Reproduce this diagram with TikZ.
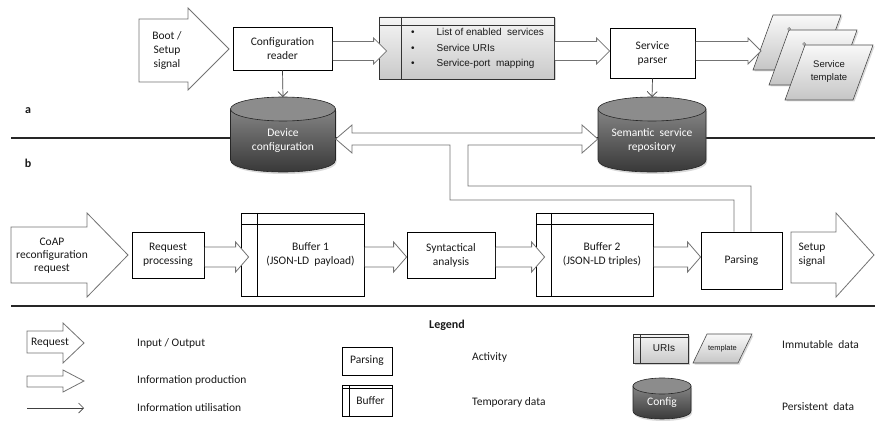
\documentclass[tikz,border=0pt]{standalone}
\usepackage{fontspec}
\setmainfont{Carlito}
\newfontfamily\arialf{Liberation Sans}
\usetikzlibrary{calc,arrows.meta,shadows}
\tikzset{
  txt/.style={font=\fontsize{11.5}{14}\selectfont, align=center, inner sep=0pt, text=black!90},
  box/.style 2 args={txt, draw=black, line width=0.75pt, fill=white, minimum width=#1, minimum height=#2},
  buffer/.style n args={4}{box={#1}{#2}, path picture={
      \draw[line width=0.75pt] ([yshift=-#3]path picture bounding box.north west) -- ([yshift=-#3]path picture bounding box.north east);
      \draw[line width=0.75pt] ([xshift=#4]path picture bounding box.north west) -- ([xshift=#4]path picture bounding box.south west);}},
  greybuf/.style n args={4}{buffer={#1}{#2}{#3}{#4}, top color=gray!8, bottom color=gray!42, draw=black!80,
      drop shadow={shadow xshift=1.5pt, shadow yshift=-1.5pt, opacity=0.35}},
  hollow/.style={draw=black!55, fill=white, line width=0.8pt, line join=miter},
  ioshape/.style={draw=black!55, fill=white, line width=0.8pt, line join=miter},
  thinarrow/.style={draw=black!75, line width=0.7pt, -{Straight Barb[length=5pt,width=10pt]}},
  cylbody/.style={draw=black!85, line width=0.6pt, top color=black!48, bottom color=black!80,
      drop shadow={shadow xshift=1pt, shadow yshift=-2pt, opacity=0.3}},
  cyltop/.style={draw=black!85, line width=0.6pt, fill=black!45},
  cyltext/.style={txt, text=white},
  tpl/.style={draw=black!70, line width=0.6pt, top color=gray!5, bottom color=gray!45,
      drop shadow={shadow xshift=1.5pt, shadow yshift=-1.5pt, opacity=0.3}},
  sepline/.style={draw=black!85},
  legtxt/.style={txt, anchor=west},
}
% hollow information-production arrow: start, tip, body half, head half
\newcommand\harrow[4]{%
  \filldraw[hollow] let \p1=(#1), \p2=(#2) in
   ({\x1+0.4pt},{\y1+#3}) -- ({\x2-13pt},{\y1+#3}) -- ({\x2-13pt},{\y1+#4}) -- (\x2,\y1)
   -- ({\x2-13pt},{\y1-#4}) -- ({\x2-13pt},{\y1-#3}) -- ({\x1+0.4pt},{\y1-#3});}
% cylinder: name, cx, ytop, ybot, rx, ry, text
\newcommand\dbcyl[7]{%
  \pgfmathsetmacro\cyL{#2-#5}\pgfmathsetmacro\cyR{#2+#5}%
  \pgfmathsetmacro\cyT{#3+#6}\pgfmathsetmacro\cyB{#4-#6}%
  \pgfmathsetmacro\cyC{#4-#6+1.3333*#6}%
  \pgfmathsetmacro\cyM{(#3+#6+#4)/2}%
  \path[cylbody] (\cyL,\cyT) -- (\cyL,\cyB) .. controls (\cyL,\cyC) and (\cyR,\cyC) .. (\cyR,\cyB) -- (\cyR,\cyT) -- cycle;
  \path[cyltop] (#2,\cyT) ellipse [x radius=#5, y radius=#6];
  \coordinate (#1-top) at (#2,#3);
  \node[cyltext, minimum width={2*#5}, minimum height={#4-#3-#6}] (#1) at (#2,\cyM) {#7};}
\begin{document}
\begin{tikzpicture}[x=1pt,y=-1pt]
\useasboundingbox (0,0) rectangle (875,422);
% separators
\draw[sepline, line width=1.4pt] (11,138) -- (875,138);
\draw[sepline, line width=1.8pt] (11,306) -- (875,306);
\node[txt, font=\fontsize{12}{14}\selectfont\bfseries] (lbla) at (28,111) {a};
\node[txt, font=\fontsize{12}{14}\selectfont\bfseries] (lblb) at (28,163) {b};

% ---------- part a ----------
\filldraw[ioshape] (139,19) -- (188,19) -- (188,8) -- (229,49) -- (188,90) -- (188,82) -- (139,82) -- cycle;
\node[txt] (boot) at (167,50) {Boot /\\Setup\\signal};
\node[box={99pt}{43pt}] (cr) at (282.5,48.5) {Configuration\\reader};
\node[greybuf={175pt}{62pt}{8pt}{22pt}] (list) at (466.5,48)
  {\hspace*{22pt}{\arialf\fontsize{10}{15.5}\selectfont\begin{tabular}{@{}l@{\hspace{22pt}}l@{}}\textbullet & List of enabled\ \ services\\ \textbullet & Service URIs\\ \textbullet & Service-port\ \ mapping\end{tabular}}};
\node[box={85pt}{50pt}] (sp) at (652.5,53) {Service\\parser};
% service templates
\foreach \dx/\dy in {0/0,16/15,32/30}{
  \path[tpl] ({773+\dx},{15+\dy}) -- ({841+\dx},{15+\dy}) -- ({821+\dx},{70+\dy}) -- ({753+\dx},{70+\dy}) -- cycle;}
\draw[black!70, fill=white, line width=0.5pt] (789,29) circle (1.4pt);
\draw[black!70, fill=white, line width=0.5pt] (804,44) circle (1.4pt);
\node[txt, font=\arialf\fontsize{9.5}{13}\selectfont] (tmpl) at (829,72) {Service\\template};
\coordinate (tplin) at (761,51);

\dbcyl{devcfg}{283}{97}{172}{52.5}{12}{Device\\configuration}
\dbcyl{repo}{652}{97}{172}{54}{12}{Semantic\ \ service\\repository}

\harrow{[yshift=-2.5pt]cr.east}{[xshift=8pt]list.west}{9.5pt}{13pt}
\harrow{[yshift=-3pt]list.east}{sp.west}{9.5pt}{13pt}
\harrow{[yshift=2pt]sp.east}{tplin}{9.5pt}{13pt}
\draw[thinarrow] (cr.south) -- (devcfg-top);
\draw[thinarrow] (sp.south) -- (repo-top);

% ---------- part b ----------
\filldraw[ioshape] (11,227) -- (87,227) -- (87,213) -- (128,255) -- (87,297) -- (87,283) -- (11,283) -- cycle;
\node[txt, font=\fontsize{11.5}{13}\selectfont] (coap) at (52,256) {CoAP\\reconfiguration\\request};
\node[box={72pt}{46pt}] (rp) at (168,255) {Request\\processing};
\node[buffer={123pt}{83pt}{11pt}{16pt}] (b1) at (302.5,254.5) {\hspace*{16pt}\begin{tabular}{@{}c@{}}Buffer 1\\(JSON-LD\ \ payload)\end{tabular}};
\node[box={88pt}{46pt}] (sa) at (451,255) {Syntactical\\analysis};
\node[buffer={117pt}{83pt}{11pt}{15pt}] (b2) at (594.5,254.5) {\hspace*{15pt}\begin{tabular}{@{}c@{}}Buffer 2\\(JSON-LD triples)\end{tabular}};
\node[box={81pt}{57pt}] (pa) at (741.5,260.5) {Parsing};
\filldraw[ioshape] (791,232) -- (836,232) -- (836,213) -- (874,255) -- (836,297) -- (836,283) -- (791,283) -- cycle;
\node[txt] (setup) at (812,255) {Setup\\signal};

\harrow{[yshift=-2pt]rp.east}{[xshift=8pt]b1.west}{10pt}{15pt}
\harrow{[yshift=-2.5pt]b1.east}{sa.west}{10pt}{15pt}
\harrow{[yshift=-2pt]sa.east}{[xshift=9pt]b2.west}{10pt}{15pt}
\harrow{[yshift=-2.5pt]b2.east}{pa.west}{10pt}{15pt}

% T-shaped connector from Parsing to both stores
\filldraw[hollow] ([xshift=-7.5pt]pa.north) -- (734,200) -- (450,200) -- (450,145) -- (352,145) -- (352,153)
  -- (devcfg.east |- 0,139) -- (352,125) -- (352,133) -- (582,133) -- (582,125) -- (repo.west |- 0,139)
  -- (582,153) -- (582,145) -- (468,145) -- (468,186) -- (751,186) -- ([xshift=9.5pt]pa.north);

% ---------- legend ----------
\node[txt, font=\fontsize{12}{14}\selectfont\bfseries] (legend) at (447,325) {Legend};
\filldraw[ioshape] (27,331) -- (63,331) -- (63,323) -- (84,343) -- (63,363) -- (63,353) -- (27,353) -- cycle;
\node[txt] (lreq) at (50,343) {Request};
\filldraw[ioshape] (27,376) -- (63,376) -- (63,370) -- (84,381) -- (63,392) -- (63,387) -- (27,387) -- cycle;
\coordinate (lu1) at (27,408); \coordinate (lu2) at (84,408);
\draw[thinarrow] (lu1) -- (lu2);
\node[legtxt] (tio) at (137,343) {Input / Output};
\node[legtxt] (tip) at (137,380) {Information production};
\node[legtxt] (tiu) at (137,408) {Information utilisation};

\node[box={50pt}{28pt}] (lpa) at (367,361) {Parsing};
\node[buffer={50pt}{31pt}{3pt}{7pt}] (lbu) at (367,400.5) {\hspace*{7pt}Buffer};
\node[legtxt] (tact) at (472,357) {Activity};
\node[legtxt] (ttmp) at (472,402) {Temporary data};

\node[greybuf={55pt}{29pt}{3pt}{7pt}, font=\arialf\fontsize{10}{12}\selectfont] (luri) at (660.5,348.5) {\hspace*{7pt}URIs};
\path[tpl] (707,334) -- (752,334) -- (738,363) -- (693,363) -- cycle;
\node[txt, font=\arialf\fontsize{7.5}{9}\selectfont] (ltpl) at (722.5,348.5) {template};
\dbcyl{lcfg}{662}{378}{419}{29}{8}{Config}
\node[legtxt] (timm) at (782,345) {Immutable\ \ data};
\node[legtxt] (tper) at (782,407) {Persistent\ \ data};
\end{tikzpicture}
\end{document}
